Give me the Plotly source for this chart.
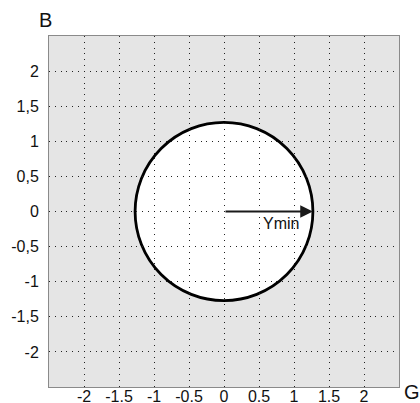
import plotly.graph_objects as go

# ---- data ----
radius = 1.27
center = [0.0, 0.0]
arrow_label = "Ymin"
x_tickvals = [-2, -1.5, -1, -0.5, 0, 0.5, 1, 1.5, 2, 2.5]
x_ticktext = ["-2", "-1.5", "-1", "-0.5", "0", "0.5", "1", "1.5", "2", ""]
y_tickvals = [-2, -1.5, -1, -0.5, 0, 0.5, 1, 1.5, 2, 2.5]
y_ticktext = ["-2", "-1,5", "-1", "-0,5", "0", "0,5", "1", "1,5", "2", ""]
x_title = "G"
y_title = "B"
axis_range = [-2.5, 2.5]

FONT = "Liberation Sans, Arial, sans-serif"

W, H = 420, 403
ML, MR, MT, MB = 49, 21, 36, 16
pw, ph = W - ML - MR, H - MT - MB


def px_to_paper(px, py):
    return (px - ML) / pw, 1 - (py - MT) / ph


fig = go.Figure()
# invisible trace to anchor the axes
fig.add_trace(go.Scatter(x=[center[0]], y=[center[1]], mode="markers",
                         marker=dict(size=1, color="rgba(0,0,0,0)"),
                         hoverinfo="skip", showlegend=False))

fig.add_shape(type="circle", xref="x", yref="y",
              x0=center[0] - radius, x1=center[0] + radius,
              y0=center[1] - radius, y1=center[1] + radius,
              fillcolor="white", line=dict(color="black", width=2.8),
              layer="below")

# arrow from center to the circle edge
fig.add_annotation(x=center[0] + radius, y=center[1], ax=center[0], ay=center[1],
                   xref="x", yref="y", axref="x", ayref="y",
                   text="", showarrow=True, arrowhead=2, arrowsize=1.15,
                   arrowwidth=2.2, arrowcolor="#1a1a1a")
fig.add_annotation(x=center[0] + radius * 0.64, y=center[1] - 0.17, xref="x", yref="y",
                   text=arrow_label, showarrow=False,
                   xanchor="center", yanchor="middle",
                   font=dict(family=FONT, size=16, color="#111"))

bx, by = px_to_paper(45, 20)
gx, gy = px_to_paper(412, 392)
fig.add_annotation(x=bx, y=by, xref="paper", yref="paper", text=y_title,
                   showarrow=False, xanchor="center", yanchor="middle",
                   font=dict(family=FONT, size=20, color="#111"))
fig.add_annotation(x=gx, y=gy, xref="paper", yref="paper", text=x_title,
                   showarrow=False, xanchor="center", yanchor="middle",
                   font=dict(family=FONT, size=20, color="#111"))

axis_common = dict(range=axis_range, showgrid=True, gridcolor="#222",
                   gridwidth=1, griddash="1px,4.83px", zeroline=False,
                   showline=True, mirror=True, linecolor="#8a8a8a", linewidth=1,
                   ticks="", tickfont=dict(family=FONT, size=16, color="#111"),
                   fixedrange=True, automargin=False)

fig.update_xaxes(**axis_common, tickmode="array", tickvals=x_tickvals,
                 ticktext=x_ticktext, ticklabelstandoff=-5)
fig.update_yaxes(**axis_common, tickmode="array", tickvals=y_tickvals,
                 ticktext=y_ticktext, ticklabelstandoff=6)

fig.update_layout(width=W, height=H, margin=dict(l=ML, r=MR, t=MT, b=MB),
                  plot_bgcolor="#e5e5e5", paper_bgcolor="white",
                  showlegend=False)

fig.write_html("out.html")
